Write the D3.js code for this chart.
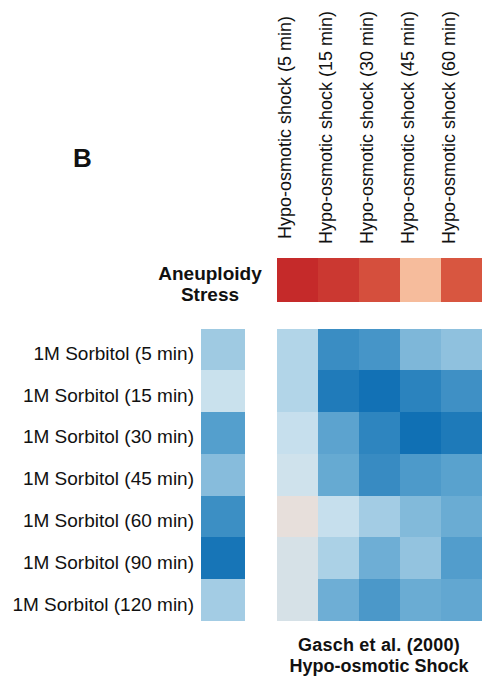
<!DOCTYPE html>
<html>
<head>
<meta charset="utf-8">
<script src="https://cdn.jsdelivr.net/npm/d3@7"></script>
<style>
  html, body { margin: 0; padding: 0; background: #fff; }
  svg { display: block; }
  text { font-family: "Liberation Sans", Arial, sans-serif; fill: #111; }
</style>
</head>
<body>
<svg id="chart" width="482" height="679"></svg>
<script>
// Hypo-osmotic shock time points (columns)
const hypoTimes = [
  "Hypo-osmotic shock (5 min)",
  "Hypo-osmotic shock (15 min)",
  "Hypo-osmotic shock (30 min)",
  "Hypo-osmotic shock (45 min)",
  "Hypo-osmotic shock (60 min)"
];

// 1M sorbitol time points (rows)
const sorbitolTimes = [
  "1M Sorbitol (5 min)",
  "1M Sorbitol (15 min)",
  "1M Sorbitol (30 min)",
  "1M Sorbitol (45 min)",
  "1M Sorbitol (60 min)",
  "1M Sorbitol (90 min)",
  "1M Sorbitol (120 min)"
];

// Correlation of the aneuploidy stress signature with each hypo-osmotic time point
const aneuploidyVsHypo = [0.79, 0.73, 0.63, 0.30, 0.60];

// Correlation of each sorbitol time point with the aneuploidy stress signature
const aneuploidyVsSorbitol = [-0.24, -0.11, -0.44, -0.30, -0.54, -0.73, -0.23];

// Correlation of sorbitol time points (rows) with hypo-osmotic time points (columns)
const sorbitol5   = [-0.19, -0.55, -0.50, -0.32, -0.28];
const sorbitol15  = [-0.19, -0.68, -0.76, -0.62, -0.53];
const sorbitol30  = [-0.12, -0.41, -0.60, -0.77, -0.69];
const sorbitol45  = [-0.09, -0.38, -0.56, -0.47, -0.42];
const sorbitol60  = [ 0.01, -0.12, -0.23, -0.31, -0.37];
const sorbitol90  = [-0.06, -0.21, -0.36, -0.27, -0.45];
const sorbitol120 = [-0.06, -0.36, -0.48, -0.37, -0.39];
const sorbitolVsHypo = [sorbitol5, sorbitol15, sorbitol30, sorbitol45, sorbitol60, sorbitol90, sorbitol120];

// Diverging colour ramp (blue = anti-correlated, red = correlated)
const colorStops = [-0.8, -0.6, -0.4, -0.2, -0.1, 0, 0.3, 0.6, 0.8];
const colorRamp  = ["#0b6cb2", "#2e85bf", "#5ea5d0", "#afd3e7", "#cce2ee", "#e6e0dd", "#f6bc9c", "#d85640", "#c42829"];

const svg = d3.select("#chart");
const color = d3.scaleLinear().domain(colorStops).range(colorRamp)
  .interpolate(d3.interpolateRgb).clamp(true);

const x = d3.scaleBand().domain(hypoTimes).range([276.5, 482]);
const y = d3.scaleBand().domain(sorbitolTimes).range([328.5, 621]);
const sideX = d3.scaleBand().domain(["Aneuploidy"]).range([201, 245]);
const topY = d3.scaleBand().domain(["Aneuploidy"]).range([258.3, 301.7]);

// Panel letter
svg.append("text")
  .attr("x", 73).attr("y", 167)
  .style("font-size", "26px").style("font-weight", "bold")
  .text("B");

// Column labels, rotated
svg.append("g").selectAll("text")
  .data(hypoTimes)
  .join("text")
  .attr("transform", d => `translate(${x(d) + x.bandwidth() / 2 - 6},127.5) rotate(-90)`)
  .attr("text-anchor", "middle")
  .style("font-size", "18px")
  .text(d => d);

// Aneuploidy stress row
svg.append("g").attr("shape-rendering", "crispEdges")
  .selectAll("rect")
  .data(aneuploidyVsHypo)
  .join("rect")
  .attr("x", (d, i) => x(hypoTimes[i]))
  .attr("y", topY("Aneuploidy"))
  .attr("width", x.bandwidth())
  .attr("height", topY.bandwidth())
  .attr("fill", d => color(d));

const rowTitle = svg.append("text")
  .attr("text-anchor", "middle")
  .style("font-size", "19px").style("font-weight", "bold");
rowTitle.append("tspan").attr("x", 210).attr("y", 280).text("Aneuploidy");
rowTitle.append("tspan").attr("x", 210).attr("y", 300.5).text("Stress");

// Sorbitol vs aneuploidy column
svg.append("g").attr("shape-rendering", "crispEdges")
  .selectAll("rect")
  .data(aneuploidyVsSorbitol)
  .join("rect")
  .attr("x", sideX("Aneuploidy"))
  .attr("y", (d, i) => y(sorbitolTimes[i]))
  .attr("width", sideX.bandwidth())
  .attr("height", y.bandwidth())
  .attr("fill", d => color(d));

// Row labels
svg.append("g").selectAll("text")
  .data(sorbitolTimes)
  .join("text")
  .attr("x", 194)
  .attr("y", d => y(d) + y.bandwidth() / 2 + 10.5)
  .attr("text-anchor", "end")
  .style("font-size", "19px")
  .text(d => d);

// Main heatmap
const cells = sorbitolVsHypo.flatMap((row, r) =>
  row.map((v, c) => ({ row: sorbitolTimes[r], col: hypoTimes[c], value: v })));

svg.append("g").attr("shape-rendering", "crispEdges")
  .selectAll("rect")
  .data(cells)
  .join("rect")
  .attr("x", d => x(d.col))
  .attr("y", d => y(d.row))
  .attr("width", x.bandwidth())
  .attr("height", y.bandwidth())
  .attr("fill", d => color(d.value));

// Dataset caption
const caption = svg.append("text")
  .attr("text-anchor", "middle")
  .style("font-size", "18px").style("font-weight", "bold");
caption.append("tspan").attr("x", 379).attr("y", 650.5).style("letter-spacing", "0.2px").text("Gasch et al. (2000)");
caption.append("tspan").attr("x", 379).attr("y", 672).text("Hypo-osmotic Shock");
</script>
</body>
</html>
